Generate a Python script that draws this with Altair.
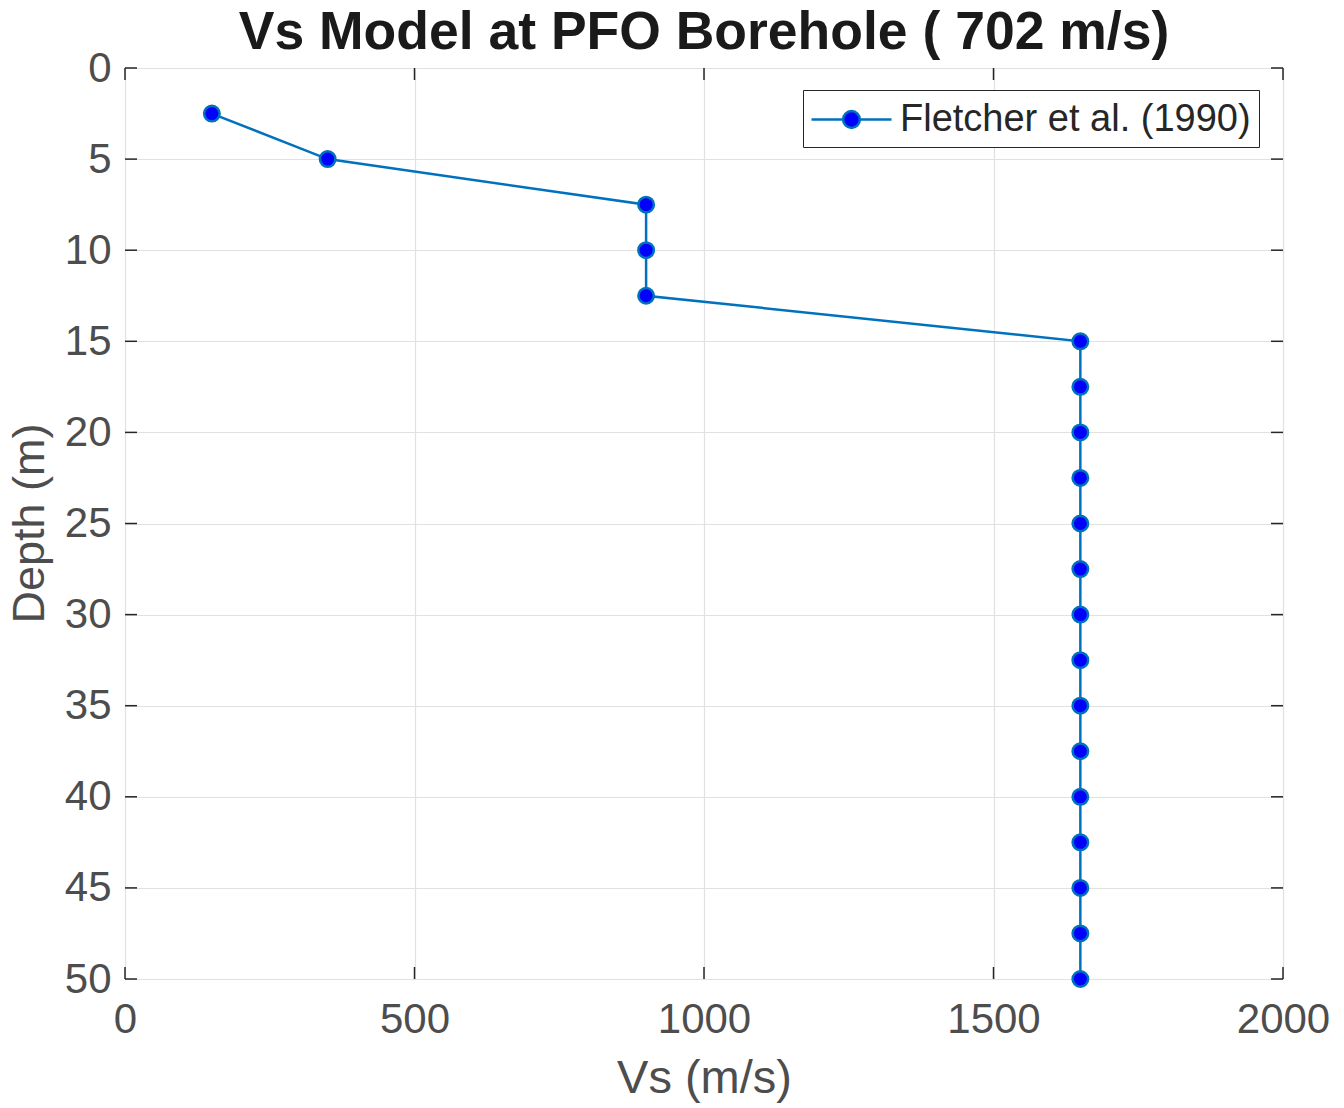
import altair as alt
import pandas as pd

depth = [2.5, 5, 7.5, 10, 12.5, 15, 17.5, 20, 22.5, 25, 27.5, 30, 32.5, 35, 37.5, 40, 42.5, 45, 47.5, 50]
vs = [150, 350, 900, 900, 900, 1650, 1650, 1650, 1650, 1650, 1650, 1650, 1650, 1650, 1650, 1650, 1650, 1650, 1650, 1650]
series_name = "Fletcher et al. (1990)"
x_ticks = [0, 500, 1000, 1500, 2000]
y_ticks = [0, 5, 10, 15, 20, 25, 30, 35, 40, 45, 50]

W, H = 1158, 911
FONT = "Liberation Sans"
TICK_LEN = 12
TICK_COLOR = "#262626"
LABEL_COLOR = "#4d4d4d"

df = pd.DataFrame({"Vs": vs, "Depth": depth, "series": [series_name] * len(vs)})
xt = pd.DataFrame({"Vs": x_ticks})
yt = pd.DataFrame({"Depth": y_ticks})

xscale = alt.Scale(domain=[0, 2000], nice=False, zero=False)
yscale = alt.Scale(domain=[0, 50], reverse=True, nice=False, zero=False)

xaxis = alt.Axis(values=x_ticks, format="d", title="Vs (m/s)", ticks=False, domain=False,
                 grid=True, gridColor="#e1e1e1", gridWidth=1.2, labelFlush=False,
                 labelFont=FONT, labelFontSize=42, labelColor=LABEL_COLOR, labelPadding=20,
                 titleFont=FONT, titleFontSize=47, titleFontWeight="normal", titleColor=LABEL_COLOR,
                 titleY=113, titleBaseline="alphabetic", titleAlign="center")
yaxis = alt.Axis(values=y_ticks, format="d", title="Depth (m)", ticks=False, domain=False,
                 grid=True, gridColor="#e1e1e1", gridWidth=1.2, labelFlush=False,
                 labelFont=FONT, labelFontSize=42, labelColor=LABEL_COLOR, labelPadding=14,
                 titleFont=FONT, titleFontSize=45, titleFontWeight="normal", titleColor=LABEL_COLOR,
                 titleAngle=270, titleX=-82, titleY=455, titleBaseline="alphabetic", titleAlign="center")

line = alt.Chart(df).mark_line(color="#0072BD", strokeWidth=2.5).encode(
    x=alt.X("Vs:Q", scale=xscale, axis=xaxis),
    y=alt.Y("Depth:Q", scale=yscale, axis=yaxis),
    order="Depth:Q",
)

legend_path = ("M-2,0L-0.45,0M0.45,0L2,0"
               "M-0.42,0A0.42,0.42,0,1,1,0.42,0A0.42,0.42,0,1,1,-0.42,0Z")

points = alt.Chart(df).mark_point(filled=True, size=240, stroke="#0072BD", strokeWidth=2.5, opacity=1).encode(
    x=alt.X("Vs:Q", scale=xscale),
    y=alt.Y("Depth:Q", scale=yscale),
    fill=alt.Fill("series:N", scale=alt.Scale(range=["#0000FF"]),
                  legend=alt.Legend(title=None, orient="none", legendX=678, legendY=22,
                                    symbolType=legend_path, symbolSize=1600, symbolOffset=19,
                                    symbolStrokeColor="#0072BD", symbolStrokeWidth=2.5,
                                    labelFont=FONT, labelFontSize=38, labelColor="#262626",
                                    labelOffset=27, labelLimit=0, padding=8,
                                    strokeColor="#262626", fillColor="white", cornerRadius=0)),
)

xt_bottom = alt.Chart(xt).mark_rule(color=TICK_COLOR, strokeWidth=1.5).encode(
    x=alt.X("Vs:Q", scale=xscale), y=alt.value(H - TICK_LEN), y2=alt.value(H))
xt_top = alt.Chart(xt).mark_rule(color=TICK_COLOR, strokeWidth=1.5).encode(
    x=alt.X("Vs:Q", scale=xscale), y=alt.value(0), y2=alt.value(TICK_LEN))
yt_left = alt.Chart(yt).mark_rule(color=TICK_COLOR, strokeWidth=1.5).encode(
    y=alt.Y("Depth:Q", scale=yscale), x=alt.value(0), x2=alt.value(TICK_LEN))
yt_right = alt.Chart(yt).mark_rule(color=TICK_COLOR, strokeWidth=1.5).encode(
    y=alt.Y("Depth:Q", scale=yscale), x=alt.value(W - TICK_LEN), x2=alt.value(W))

chart = alt.layer(line, xt_bottom, xt_top, yt_left, yt_right, points).properties(
    width=W, height=H,
    title=alt.Title("Vs Model at PFO Borehole ( 702 m/s)", font=FONT, fontSize=53.5,
                    fontWeight="bold", color="#1a1a1a", anchor="middle", offset=-13),
    autosize=alt.AutoSizeParams(type="none"),
    padding={"left": 125, "top": 68, "right": 61, "bottom": 129},
).configure_view(stroke="#404040", strokeWidth=2).configure(background="white")

chart.save("out.html", embed_options={"renderer": "svg", "actions": False})
